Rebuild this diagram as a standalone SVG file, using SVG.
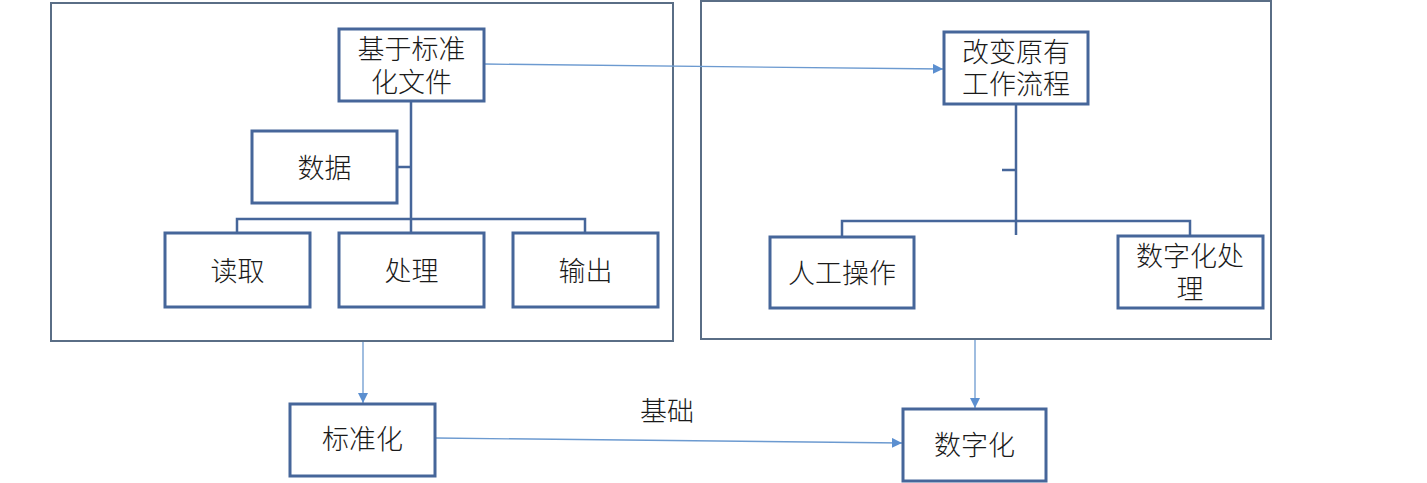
<svg xmlns="http://www.w3.org/2000/svg" width="1427" height="483" viewBox="0 0 1427 483">
<style>
.cont{fill:none;stroke:#5A6E86;stroke-width:2}
.box{fill:#fff;stroke:#46669A;stroke-width:3}
.tree{fill:none;stroke:#46669A;stroke-width:2.5}
.arr{fill:none;stroke:#6C9AD0;stroke-width:1.3;marker-end:url(#ah)}
text{font-family:"Liberation Sans","Noto Sans CJK SC",sans-serif;font-size:27px;font-weight:300;fill:#1a1a1a;text-anchor:middle;dominant-baseline:central}
</style>
<defs>
<marker id="ah" viewBox="0 0 10 10" refX="10" refY="5" markerWidth="10" markerHeight="10" markerUnits="userSpaceOnUse" orient="auto">
<path d="M0,0 L10,5 L0,10 z" fill="#5B8FD0"/>
</marker>
</defs>
<rect width="1427" height="483" fill="#fff"/>
<g id="container-left"><rect class="cont" x="51" y="3" width="622" height="338"/></g>
<g id="container-right"><rect class="cont" x="701" y="1" width="570" height="338"/></g>
<g id="connectors">
<path class="tree" d="M411,101 V233 M397,167 H411 M237,233 V219 H585 V233"/>
<path class="tree" d="M1016,104 V235 M1002,170 H1016 M842,237 V221 H1190 V236"/>
<line class="arr" x1="484" y1="64" x2="943" y2="69"/>
<line class="arr" x1="363" y1="342" x2="363" y2="403"/>
<line class="arr" x1="975" y1="340" x2="975" y2="408"/>
<line class="arr" x1="436" y1="438" x2="902" y2="443"/>
<text x="667" y="412">基础</text>
</g>
<g id="n-file"><rect class="box" x="339" y="29" width="145" height="72"/><text x="411.5" y="50">基于标准<tspan x="411.5" dy="33">化文件</tspan></text></g>
<g id="n-data"><rect class="box" x="252" y="131" width="145" height="72"/><text x="324.5" y="169">数据</text></g>
<g id="n-read"><rect class="box" x="165" y="233" width="145" height="74"/><text x="237.5" y="272">读取</text></g>
<g id="n-proc"><rect class="box" x="339" y="233" width="145" height="74"/><text x="411.5" y="272">处理</text></g>
<g id="n-out"><rect class="box" x="513" y="233" width="145" height="74"/><text x="585.5" y="272">输出</text></g>
<g id="n-change"><rect class="box" x="944" y="32" width="144" height="72"/><text x="1016" y="53">改变原有<tspan x="1016" dy="32">工作流程</tspan></text></g>
<g id="n-manual"><rect class="box" x="770" y="237" width="144" height="71"/><text x="842" y="274">人工操作</text></g>
<g id="n-digproc"><rect class="box" x="1118" y="236" width="145" height="72"/><text x="1190" y="257">数字化处<tspan x="1190" dy="33">理</tspan></text></g>
<g id="n-std"><rect class="box" x="290" y="404" width="145" height="72"/><text x="362.5" y="440">标准化</text></g>
<g id="n-dig"><rect class="box" x="903" y="409" width="143" height="72"/><text x="974.5" y="446">数字化</text></g>
</svg>
